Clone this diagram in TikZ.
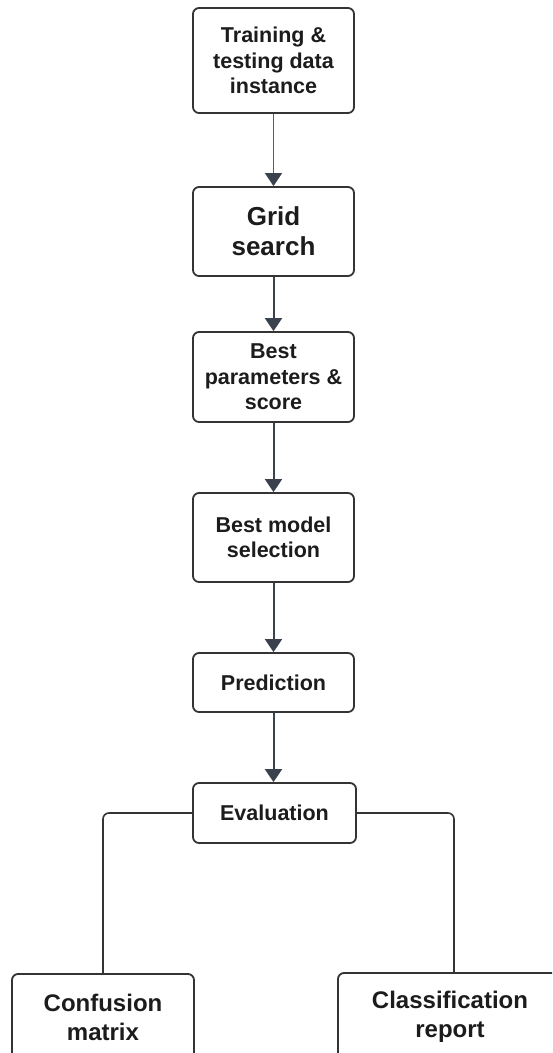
\documentclass[tikz,border=0pt]{standalone}
\usepackage{fontspec}
\setmainfont{Liberation Sans}
\usetikzlibrary{arrows.meta}

\definecolor{edge}{HTML}{3A424D}
\definecolor{frame}{HTML}{343434}
\definecolor{ink}{HTML}{1C1C1C}
\definecolor{thinline}{HTML}{5A5F66}

\tikzset{
  box/.style={draw=frame, line width=1.8pt, rounded corners=6pt, fill=white,
    inner sep=0pt, align=center, text=ink, minimum width=161pt,
    font=\bfseries\fontsize{21.5}{25.5}\selectfont},
  bigbox/.style={box, font=\bfseries\fontsize{26}{30}\selectfont},
  endbox/.style={box, font=\bfseries\fontsize{24}{29}\selectfont},
  tip/.style={-{Triangle[width=17pt,length=13pt,color=edge]}},
  flow/.style={draw=edge, line width=2pt, tip},
  thinflow/.style={draw=thinline, line width=1pt, tip},
  branch/.style={draw=frame, line width=1.6pt, rounded corners=6pt},
}

\begin{document}
\begin{tikzpicture}[x=1pt, y=-1pt]
  \useasboundingbox (0,0) rectangle (552,1053);
  \fill[white] (0,0) rectangle (552,1053);
  \clip (0,0) rectangle (552,1053);

  % main pipeline
  \node[box, minimum height=105pt] (data) at (273.5,60.5) {Training \&\\testing data\\instance};
  \node[bigbox, minimum height=89pt] (grid) at (273.5,231.5) {Grid\\search};
  \node[box, minimum height=90pt] (best) at (273.5,377) {Best\\parameters \&\\score};
  \node[box, minimum height=89pt] (model) at (273.5,537.5) {Best model\\selection};
  \node[box, minimum height=59pt] (pred) at (273.5,682.5) {Prediction};
  \node[box, minimum width=163pt, minimum height=60pt] (eval) at (274.5,813) {Evaluation};

  % outputs of the evaluation step (their lower edges run past the page)
  \node[endbox, minimum width=182pt, minimum height=86pt] (conf) at (103,1017) {Confusion\\matrix};
  \node[endbox, minimum width=224pt, minimum height=88pt] (cls) at (450,1017) {Classification\\report};

  % connectors
  \draw[thinflow] (data.south) -- (grid.north);
  \draw[flow] (grid.south) -- (best.north);
  \draw[flow] (best.south) -- (model.north);
  \draw[flow] (model.south) -- (pred.north);
  \draw[flow] (pred.south) -- (pred.south |- eval.north);
  \draw[branch] (eval.west) -| (conf.north);
  \draw[branch] (eval.east) -| ([xshift=4pt]cls.north);
\end{tikzpicture}
\end{document}
